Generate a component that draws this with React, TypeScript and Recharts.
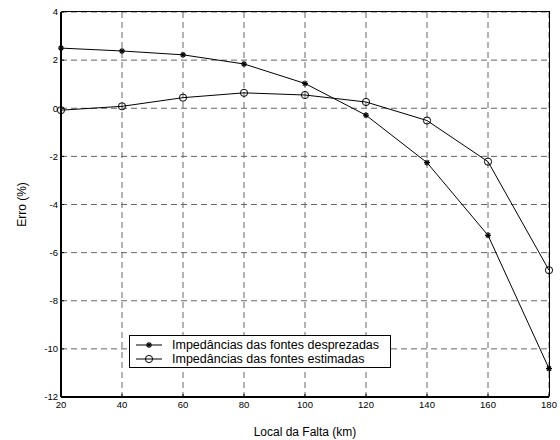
import { LineChart, Line, XAxis, YAxis, CartesianGrid, Label } from 'recharts'

const distances = [20, 40, 60, 80, 100, 120, 140, 160, 180]
const erroDesprezadas = [2.5, 2.38, 2.22, 1.84, 1.03, -0.29, -2.26, -5.28, -10.82]
const erroEstimadas = [-0.08, 0.08, 0.44, 0.64, 0.55, 0.26, -0.51, -2.22, -6.73]
const xTicks = [20, 40, 60, 80, 100, 120, 140, 160, 180]
const yTicks = [-12, -10, -8, -6, -4, -2, 0, 2, 4]
const seriesNames = ['Impedâncias das fontes desprezadas', 'Impedâncias das fontes estimadas']

const data = distances.map((d, i) => ({ km: d, desp: erroDesprezadas[i], est: erroEstimadas[i] }))

const FONT = 'Arial, "Liberation Sans", sans-serif'
const M = { top: 12, right: 11, bottom: 0, left: 0 }
const Y_W = 61
const X_H = 43

function Star({ cx, cy }: any) {
  if (cx == null || cy == null) return null
  const r = 3
  return (
    <g stroke="#000" strokeWidth={1.2}>
      <line x1={cx - r} y1={cy} x2={cx + r} y2={cy} />
      <line x1={cx} y1={cy - r} x2={cx} y2={cy + r} />
      <line x1={cx - r * 0.7} y1={cy - r * 0.7} x2={cx + r * 0.7} y2={cy + r * 0.7} />
      <line x1={cx - r * 0.7} y1={cy + r * 0.7} x2={cx + r * 0.7} y2={cy - r * 0.7} />
    </g>
  )
}

function Ring({ cx, cy }: any) {
  if (cx == null || cy == null) return null
  return <circle cx={cx} cy={cy} r={3.6} fill="none" stroke="#000" strokeWidth={1} />
}

function LegendBox() {
  return (
    <div style={{ position: 'absolute', left: 129, top: 335, width: 262, height: 33, border: '1px solid #000', background: '#fff', boxSizing: 'border-box', fontFamily: FONT, fontSize: 12.5 }}>
      {seriesNames.map((name, i) => (
        <div key={name} style={{ position: 'absolute', left: 0, top: 2 + i * 14, height: 14, display: 'flex', alignItems: 'center' }}>
          <svg width={36} height={14} style={{ marginLeft: 4 }}>
            <line x1={2} y1={7} x2={28} y2={7} stroke="#000" strokeWidth={1} />
            {i === 0 ? <Star cx={15} cy={7} /> : <Ring cx={15} cy={7} />}
          </svg>
          <span style={{ marginLeft: 2, whiteSpace: 'nowrap', lineHeight: '14px' }}>{name}</span>
        </div>
      ))}
    </div>
  )
}

export default function App() {
  const tickStyle = { fontSize: 9.5, fill: '#000', fontFamily: FONT }
  const W = 560
  const H = 440
  return (
    <div style={{ position: 'absolute', left: 0, top: 0, width: W, height: H, background: '#fff' }}>
      <LineChart width={W} height={H} data={data} margin={M}>
        <CartesianGrid xAxisId="b" yAxisId="l" stroke="#666" strokeDasharray="6 4" strokeWidth={1} />
        <XAxis
          xAxisId="b"
          dataKey="km"
          type="number"
          domain={[20, 180]}
          ticks={xTicks}
          height={X_H}
          tick={tickStyle}
          tickSize={-3}
          tickMargin={7}
          axisLine={{ stroke: '#000', strokeWidth: 2 }}
          tickLine={{ stroke: '#000' }}
        >
          <Label value="Local da Falta (km)" position="insideBottom" offset={4} style={{ fontSize: 12, fill: '#000', fontFamily: FONT }} />
        </XAxis>
        <YAxis
          yAxisId="l"
          type="number"
          domain={[-12, 4]}
          ticks={yTicks}
          width={Y_W}
          tick={tickStyle}
          tickSize={-3}
          tickMargin={6}
          axisLine={{ stroke: '#000', strokeWidth: 2 }}
          tickLine={{ stroke: '#000' }}
        >
          <Label value="Erro (%)" angle={-90} position="insideLeft" offset={22} style={{ fontSize: 12, fill: '#000', fontFamily: FONT, textAnchor: 'middle' }} />
        </YAxis>
        <Line xAxisId="b" yAxisId="l" dataKey="desp" name={seriesNames[0]} stroke="#000" strokeWidth={1} dot={<Star />} activeDot={false} isAnimationActive={false} />
        <Line xAxisId="b" yAxisId="l" dataKey="est" name={seriesNames[1]} stroke="#000" strokeWidth={1} dot={<Ring />} activeDot={false} isAnimationActive={false} />
      </LineChart>
      {/* axes box (top and right edges) */}
      <div
        style={{
          position: 'absolute',
          left: M.left + Y_W,
          top: M.top - 1,
          width: W - M.left - Y_W - M.right,
          height: H - M.top - M.bottom - X_H,
          borderTop: '1.5px solid #000',
          borderRight: '1.5px solid #000',
          boxSizing: 'border-box',
          transform: 'translateX(1px)',
          pointerEvents: 'none',
        }}
      />
      <LegendBox />
    </div>
  )
}
